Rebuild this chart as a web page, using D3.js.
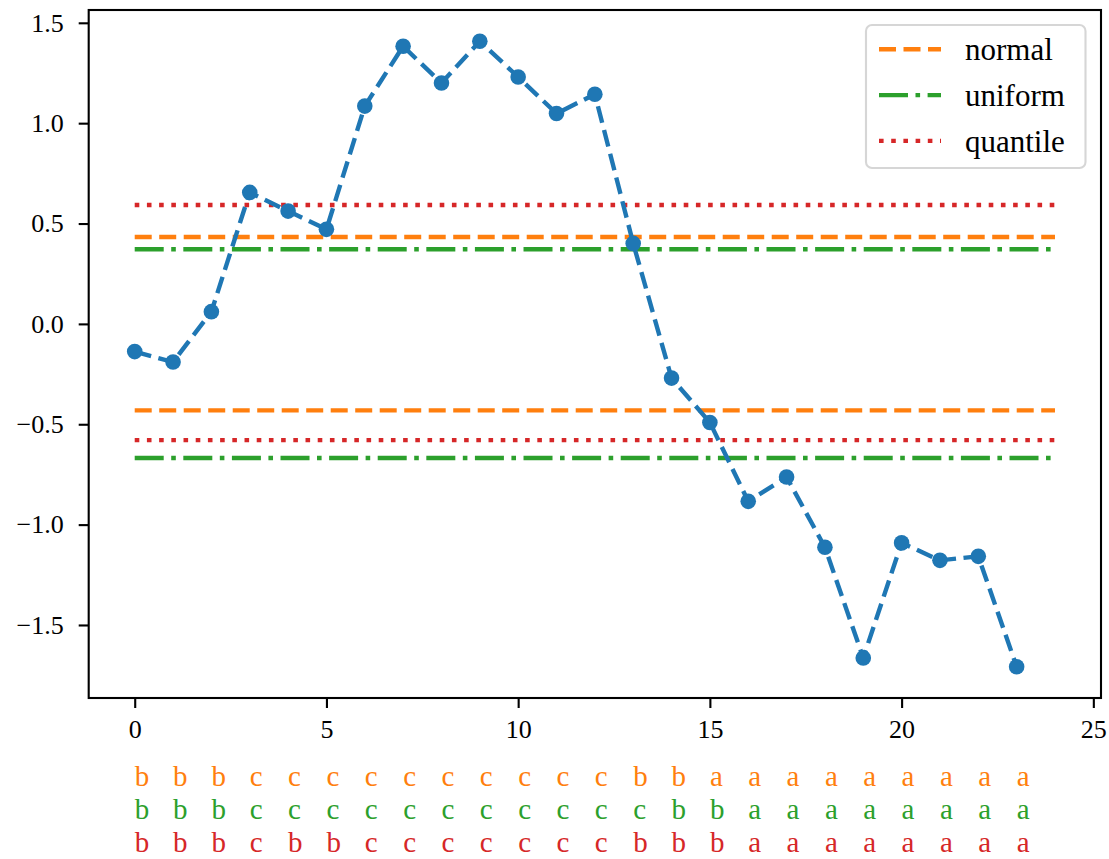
<!DOCTYPE html>
<html lang="en">
<head>
    <meta charset="UTF-8">
    <title>Discretised series</title>
    <script src="https://d3js.org/d3.v7.min.js"></script>
</head>
<style>
    body { margin: 0; background: #fff; }
    text { font-family: "Liberation Serif", "DejaVu Serif", serif; }
    .axis text { font-size: 26px; fill: #000; }
    .axis line { stroke: #000; stroke-width: 2.1px; }
    .axis path { display: none; }
</style>
<body>
    <svg id="chart"></svg>

    <script>
        // series values
        var values = [-0.138, -0.19, 0.061, 0.655, 0.562, 0.471, 1.085, 1.383, 1.2, 1.408,
            1.23, 1.048, 1.144, 0.401, -0.27, -0.491, -0.884, -0.763, -1.113, -1.664,
            -1.091, -1.178, -1.158, -1.708];

        // bin edges (lower, upper) for each strategy
        var normalBounds = [-0.431, 0.433];
        var uniformBounds = [-0.668, 0.372];
        var quantileBounds = [-0.579, 0.592];

        // bin letters shown under the axis
        var normalLabels = "b b b c c c c c c c c c c b b a a a a a a a a a".split(" ");
        var uniformLabels = "b b b c c c c c c c c c c c b b a a a a a a a a".split(" ");
        var quantileLabels = "b b b c b b c c c c c c c b b b a a a a a a a a".split(" ");

        var xTicks = [0, 5, 10, 15, 20, 25];
        var yTicks = [-1.5, -1.0, -0.5, 0.0, 0.5, 1.0, 1.5];

        var strategies = [
            { name: "normal", bounds: normalBounds, labels: normalLabels, color: "#ff7f0e", dash: "17,7.5" },
            { name: "uniform", bounds: uniformBounds, labels: uniformLabels, color: "#2ca02c", dash: "29,7.5,4.6,7.5" },
            { name: "quantile", bounds: quantileBounds, labels: quantileLabels, color: "#d62728", dash: "4.6,7.6" }
        ];

        var W = 1109, H = 859;
        var plot = { left: 88.7, right: 1101, top: 10, bottom: 698 };
        var xMax = values.length; // hlines run 0..24

        var svg = d3.select("#chart")
            .attr("width", W)
            .attr("height", H);

        // matplotlib style 5% margins
        var xPad = xMax * 0.05;
        var x = d3.scaleLinear()
            .domain([-xPad, xMax + xPad])
            .range([plot.left, plot.right]);

        var yAll = values.concat(normalBounds, uniformBounds, quantileBounds);
        var yExt = d3.extent(yAll);
        var yPad = (yExt[1] - yExt[0]) * 0.05;
        var y = d3.scaleLinear()
            .domain([yExt[0] - yPad, yExt[1] + yPad])
            .range([plot.bottom, plot.top]);

        // horizontal bin edges
        strategies.forEach(function(s) {
            svg.selectAll(null)
                .data(s.bounds)
                .enter().append("line")
                .attr("x1", x(0))
                .attr("x2", x(xMax))
                .attr("y1", function(d) { return y(d); })
                .attr("y2", function(d) { return y(d); })
                .attr("stroke", s.color)
                .attr("stroke-width", 4.4)
                .attr("stroke-dasharray", s.dash);
        });

        // the series
        var line = d3.line()
            .x(function(d, i) { return x(i); })
            .y(function(d) { return y(d); });

        svg.append("path")
            .datum(values)
            .attr("d", line)
            .attr("fill", "none")
            .attr("stroke", "#1f77b4")
            .attr("stroke-width", 4.4)
            .attr("stroke-dasharray", "17,7.5");

        svg.selectAll(".dot")
            .data(values)
            .enter().append("circle")
            .attr("class", "dot")
            .attr("cx", function(d, i) { return x(i); })
            .attr("cy", function(d) { return y(d); })
            .attr("r", 7.8)
            .attr("fill", "#1f77b4");

        // axes
        svg.append("g")
            .attr("class", "axis")
            .attr("transform", "translate(0," + plot.bottom + ")")
            .call(d3.axisBottom(x).tickValues(xTicks).tickFormat(d3.format("d"))
                .tickSize(10).tickPadding(11.5));

        svg.append("g")
            .attr("class", "axis")
            .attr("transform", "translate(" + plot.left + ",0)")
            .call(d3.axisLeft(y).tickValues(yTicks).tickFormat(d3.format(".1f"))
                .tickSize(10).tickPadding(15));

        svg.append("rect")
            .attr("x", plot.left)
            .attr("y", plot.top)
            .attr("width", plot.right - plot.left)
            .attr("height", plot.bottom - plot.top)
            .attr("fill", "none")
            .attr("stroke", "#000")
            .attr("stroke-width", 2.1);

        // legend
        var lg = svg.append("g").attr("transform", "translate(866,25)");
        lg.append("rect")
            .attr("width", 219.5)
            .attr("height", 143)
            .attr("rx", 6)
            .attr("fill", "#fff")
            .attr("fill-opacity", 0.8)
            .attr("stroke", "#cccccc")
            .attr("stroke-opacity", 0.8)
            .attr("stroke-width", 2.1);

        var items = lg.selectAll(".item")
            .data(strategies)
            .enter().append("g")
            .attr("transform", function(d, i) { return "translate(0," + (24.3 + i * 45.8) + ")"; });
        items.append("line")
            .attr("x1", 13)
            .attr("x2", 75)
            .attr("stroke", function(d) { return d.color; })
            .attr("stroke-width", 4.4)
            .attr("stroke-dasharray", function(d) { return d.dash; });
        items.append("text")
            .attr("x", 99)
            .attr("y", 11)
            .attr("font-size", 31)
            .text(function(d) { return d.name; });

        // bin letters under the axis
        strategies.forEach(function(s, k) {
            svg.selectAll(null)
                .data(s.labels)
                .enter().append("text")
                .attr("x", function(d, i) { return x(i); })
                .attr("y", 786 + k * 33)
                .attr("font-size", 29)
                .attr("fill", s.color)
                .text(function(d) { return d; });
        });
    </script>
</body>
</html>
